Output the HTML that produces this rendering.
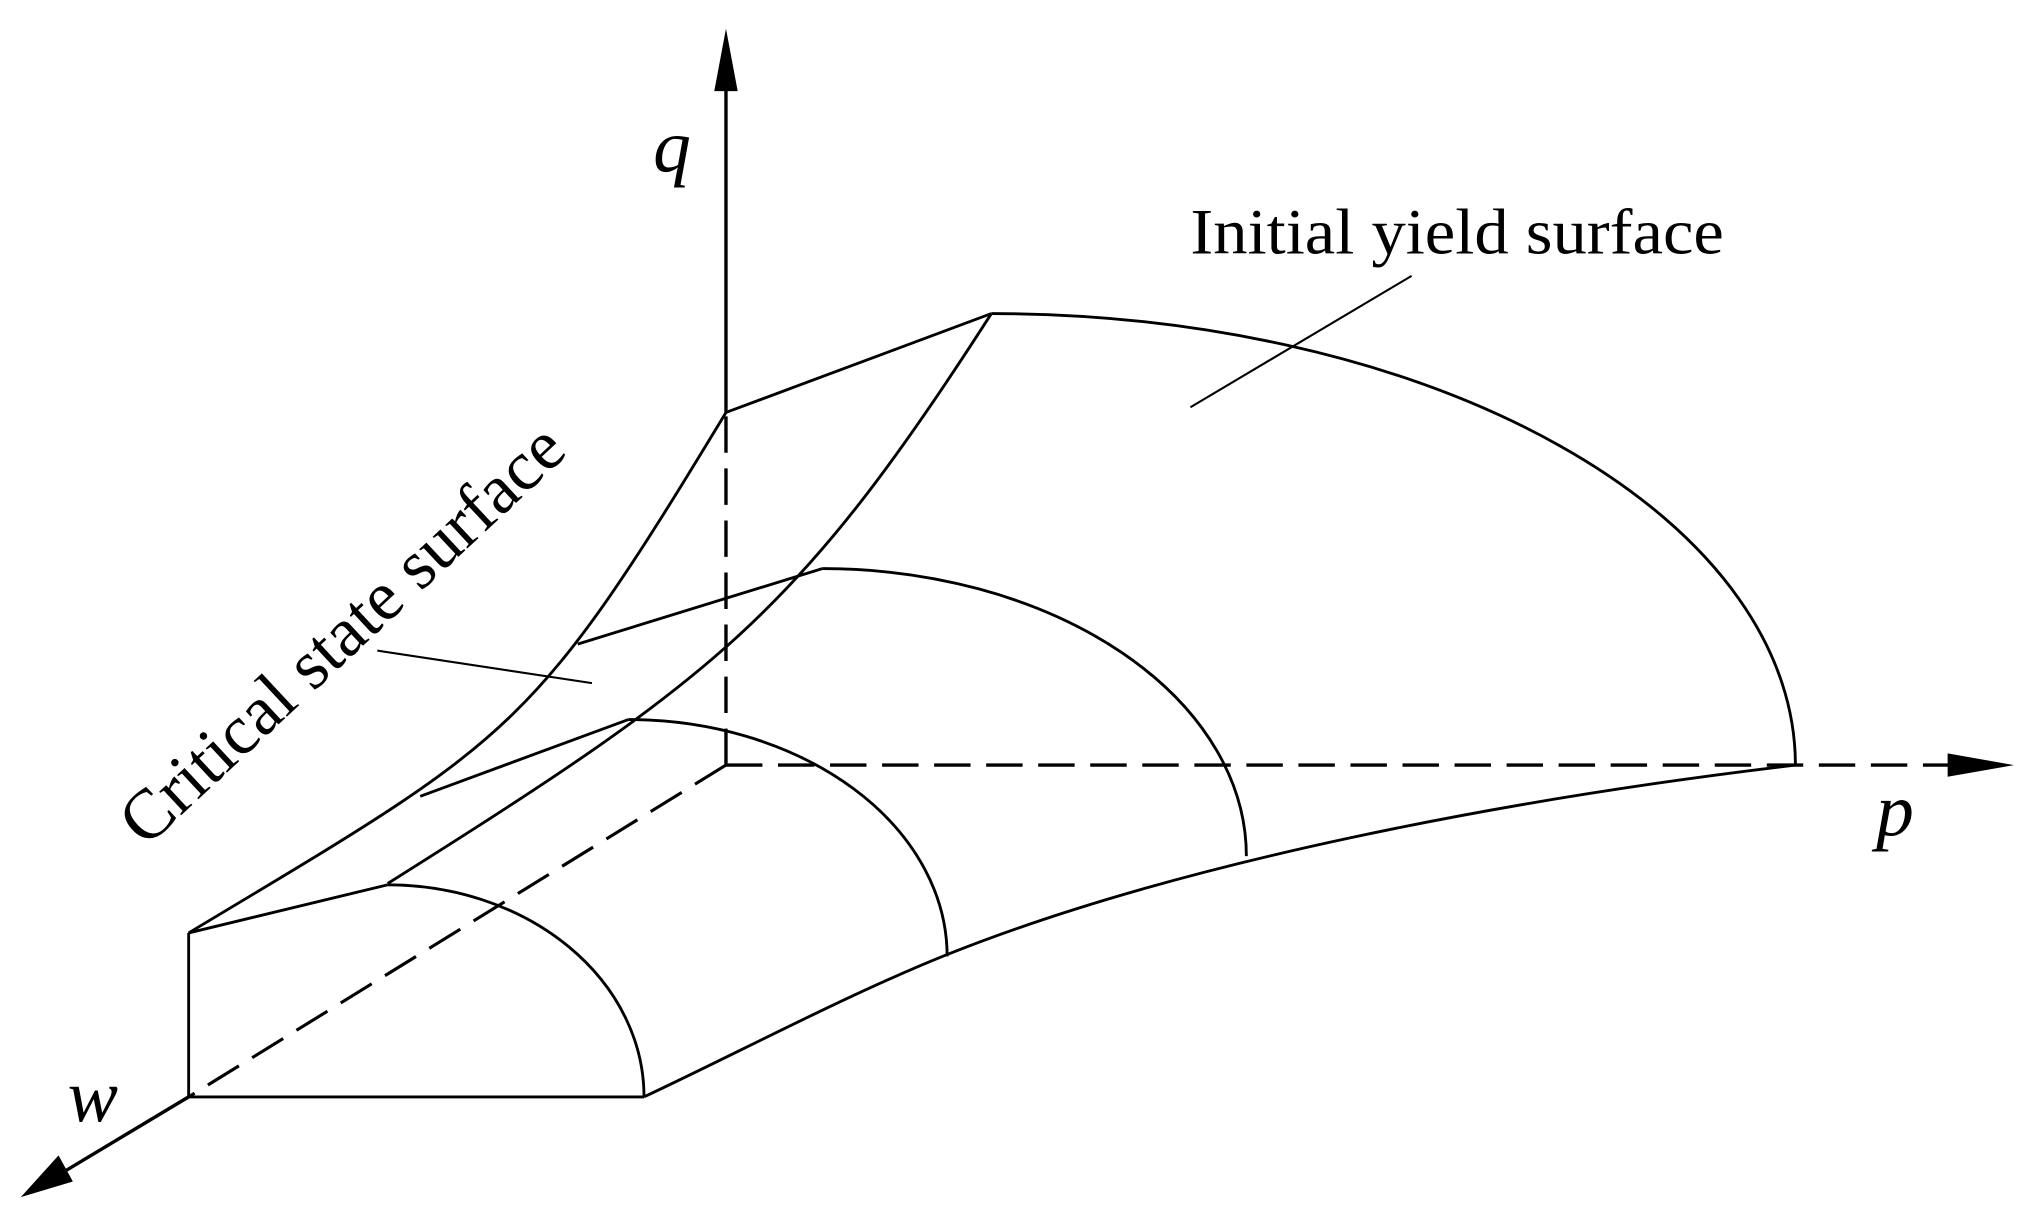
<!DOCTYPE html>
<html><head><meta charset="utf-8"><style>
html,body{margin:0;padding:0;background:#fff;width:2040px;height:1227px;overflow:hidden}
svg{display:block}
text{font-family:"Liberation Serif",serif;fill:#000}
</style></head><body>
<svg width="2040" height="1227" viewBox="0 0 1568 943" preserveAspectRatio="none" xmlns="http://www.w3.org/2000/svg">
<g fill="none" stroke="#000" stroke-width="2.2" stroke-linejoin="round">
<line x1="558" y1="317" x2="558" y2="65" stroke-width="2.6"/>
<line x1="558" y1="588" x2="558" y2="317" stroke-width="2.6" stroke-dasharray="28,12"/>
<line x1="558" y1="588" x2="1500" y2="588" stroke-width="2.6" stroke-dasharray="28,12"/>
<line x1="558" y1="588" x2="145" y2="843" stroke-width="2.4" stroke-dasharray="28,12"/>
<line x1="145" y1="843" x2="50" y2="900" stroke-width="2.6"/>
<polyline points="145,717 145,843 495,843"/>
<line x1="145" y1="717" x2="298" y2="680"/>
<path d="M298,680 A197,163 0 0 1 495,843"/>
<line x1="323" y1="612" x2="483" y2="553"/>
<path d="M483,553 A245,182 0 0 1 728,735"/>
<line x1="444" y1="495" x2="632" y2="437"/>
<path d="M632,437 A326,221 0 0 1 958,658"/>
<line x1="558" y1="317" x2="762" y2="241"/>
<path d="M762,241 A618,347 0 0 1 1380,588"/>
<path d="M145,717 C395,567 408,565 558,317"/>
<path d="M298,679 C548,521.5 612,475 762,241"/>
<path d="M495,843 C572,806.8 650,765 727,734 C907,662 1160,614 1380,588"/>
<line x1="1085" y1="212" x2="915" y2="313" stroke-width="1.6"/>
<line x1="290" y1="500" x2="455" y2="525" stroke-width="1.6"/>
</g>
<polygon points="558,22 549,70 567,70" fill="#000"/>
<polygon points="1548,588 1497,579 1497,597" fill="#000"/>
<polygon points="16,920 45,888 56,908" fill="#000"/>
<text x="502" y="132" font-size="58" font-style="italic">q</text>
<text x="1442" y="642" font-size="58" font-style="italic">p</text>
<text x="52" y="862" font-size="58" font-style="italic">w</text>
<text x="915" y="195" font-size="50" textLength="410" lengthAdjust="spacingAndGlyphs">Initial yield surface</text>
<text x="0" y="0" font-size="54" transform="translate(112,652) rotate(-43)" textLength="445" lengthAdjust="spacingAndGlyphs">Critical state surface</text>
</svg>
</body></html>
